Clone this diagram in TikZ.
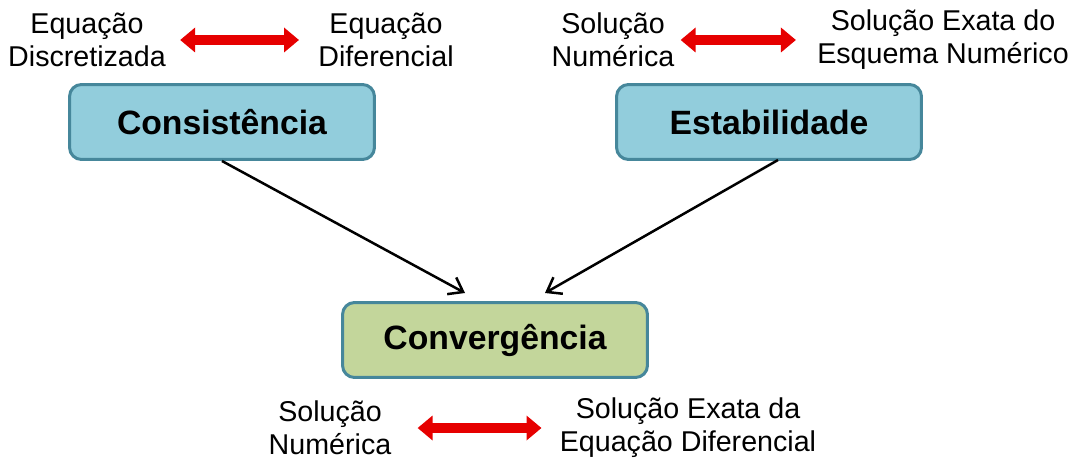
\documentclass[tikz,border=0pt]{standalone}
\usepackage{fontspec}
\setmainfont{Liberation Sans}
\usetikzlibrary{arrows.meta}
\definecolor{boxblue}{RGB}{146,205,220}
\definecolor{boxgreen}{RGB}{195,214,155}
\definecolor{boxedge}{RGB}{70,135,155}
\definecolor{arrowred}{RGB}{230,0,0}
\tikzset{
  conceptbox/.style={draw=boxedge, line width=0.06cm, rounded corners=0.24cm,
    minimum width=6.1cm, minimum height=1.5cm,
    font=\fontsize{19.2}{22}\selectfont\bfseries},
  note/.style={align=center, inner sep=0pt,
    font=\fontsize{16.3}{18.8}\selectfont},
  link/.style={line width=0.05cm, -{Straight Barb[length=0.26cm,width=0.38cm]}},
  swap/.style={arrowred, line width=0.2cm,
    {Triangle[length=0.3cm,width=0.48cm]}-{Triangle[length=0.3cm,width=0.48cm]}}
}
\begin{document}
\begin{tikzpicture}[x=0.02cm, y=-0.02cm]
  \useasboundingbox (0,0) rectangle (1074,459);
  % main boxes
  \node[conceptbox, fill=boxblue]  (cons) at (222,122) {Consistência};
  \node[conceptbox, fill=boxblue]  (stab) at (769,122) {Estabilidade};
  \node[conceptbox, fill=boxgreen] (conv) at (495,340) {Convergência};
  % arrow ends above Convergência
  \coordinate (convL) at (465,293);
  \coordinate (convR) at (545,293);
  \coordinate (stabS) at (778,160);
  \draw[link] (cons.south) -- (convL);
  \draw[link] (stabS) -- (convR);
  % notes on top left
  \node[note] (discr) at (87,40) {Equação\\Discretizada};
  \node[note] (difer) at (386,40) {Equação\\Diferencial};
  \draw[swap, shorten <=0.28cm, shorten >=0.38cm] (discr.east) -- (difer.west);
  % notes on top right
  \node[note] (numA) at (613,40) {Solução\\Numérica};
  \node[note] (esq) at (943,40) {Solução Exata do\\Esquema Numérico};
  \draw[swap, shorten <=0.12cm, shorten >=0.42cm] (numA.east) -- (esq.west);
  % notes at the bottom
  \node[note] (numB) at (330,428) {Solução\\Numérica};
  \node[note] (exata) at (688,428) {Solução Exata da\\Equação Diferencial};
  \draw[swap, shorten <=0.52cm, shorten >=0.36cm] (numB.east) -- (exata.west);
\end{tikzpicture}
\end{document}
